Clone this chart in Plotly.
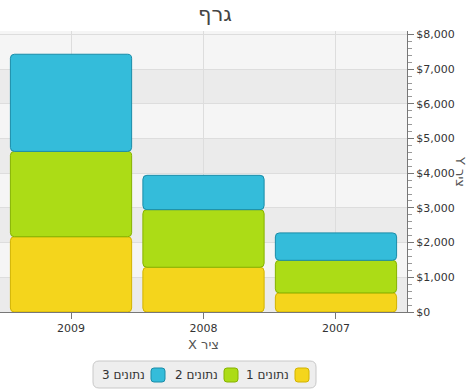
import plotly.graph_objects as go

# ---------------- data ----------------
categories = ["2009", "2008", "2007"]
series_names = ["נתונים 1", "נתונים 2", "נתונים 3"]
data_1 = [2170, 1290, 550]
data_2 = [2460, 1660, 940]
data_3 = [2800, 990, 790]
y_ticks = [0, 1000, 2000, 3000, 4000, 5000, 6000, 7000, 8000]
y_tick_labels = ["$0", "$1,000", "$2,000", "$3,000", "$4,000", "$5,000", "$6,000", "$7,000", "$8,000"]
title_text = "גרף"
x_title = "ציר X"
y_title = "ציר Y"

# ---------------- styles ----------------
fills = ["#f4d51c", "#acdc16", "#34bcda"]
borders = ["#d2b300", "#86b200", "#1a8ca8"]

W, H = 468, 389
PL, PR, PT, PB = 0, 407, 31, 312  # plot area in px


def px_x(px):
    return (px - PL) / (PR - PL)


def px_y(py):
    return (PB - py) / (PB - PT)


def rrect(x0, y0, x1, y1, r):
    """rounded rect path in paper coords, inputs in px"""
    X, Y = px_x, px_y
    return (f"M{X(x0 + r)},{Y(y0)} L{X(x1 - r)},{Y(y0)} Q{X(x1)},{Y(y0)} {X(x1)},{Y(y0 + r)} "
            f"L{X(x1)},{Y(y1 - r)} Q{X(x1)},{Y(y1)} {X(x1 - r)},{Y(y1)} "
            f"L{X(x0 + r)},{Y(y1)} Q{X(x0)},{Y(y1)} {X(x0)},{Y(y1 - r)} "
            f"L{X(x0)},{Y(y0 + r)} Q{X(x0)},{Y(y0)} {X(x0 + r)},{Y(y0)} Z")


series = [data_1, data_2, data_3]
bases = []
acc = [0] * len(categories)
for s in series:
    bases.append(list(acc))
    acc = [a + v for a, v in zip(acc, s)]

fig = go.Figure()
for i, (name, vals) in enumerate(zip(series_names, series)):
    fig.add_trace(go.Bar(
        x=categories, y=vals, base=bases[i], name=name,
        width=0.915,
        marker=dict(color=fills[i], line=dict(color=borders[i], width=1), cornerradius=4),
        showlegend=False,
    ))

shapes = []
# alternate row fills
for k in range(0, len(y_ticks) - 1, 2):
    shapes.append(dict(type="rect", xref="paper", yref="y", x0=0, x1=1,
                       y0=y_ticks[k], y1=y_ticks[k + 1], fillcolor="#ebebeb",
                       line=dict(width=0), layer="below"))

# legend box
shapes.append(dict(type="path", xref="paper", yref="paper",
                   path=rrect(93, 361, 316, 388, 6), fillcolor="#eeeeee",
                   line=dict(color="#c8c8c8", width=1), layer="above"))

annotations = []
# legend entries (RTL: swatch at right of text)
sw_x = [295, 224, 151]
for i, name in enumerate(series_names):
    x0 = sw_x[i]
    shapes.append(dict(type="path", xref="paper", yref="paper",
                       path=rrect(x0, 368, x0 + 14, 382, 3), fillcolor=fills[i],
                       line=dict(color=borders[i], width=1), layer="above"))
    annotations.append(dict(xref="paper", yref="paper", x=px_x(x0 - 4), y=px_y(375),
                            text=name, showarrow=False, xanchor="right", yanchor="middle",
                            font=dict(size=12, color="#333333", family="DejaVu Sans")))

# title
annotations.append(dict(xref="paper", yref="paper", x=px_x(215), y=px_y(14), text=title_text,
                        showarrow=False, xanchor="center", yanchor="middle",
                        font=dict(size=21, color="#444444", family="DejaVu Sans")))
# x title
annotations.append(dict(xref="paper", yref="paper", x=0.5, y=px_y(344),
                        text="\u202B" + x_title + "\u202C",
                        showarrow=False, xanchor="center", yanchor="middle",
                        font=dict(size=13, color="#555555", family="DejaVu Sans")))
# y title
annotations.append(dict(xref="paper", yref="paper", x=px_x(461), y=px_y(171), textangle=90,
                        text="\u202B" + y_title + "\u202C",
                        showarrow=False, xanchor="center", yanchor="middle",
                        font=dict(size=13, color="#555555", family="DejaVu Sans")))

fig.update_layout(
    width=W, height=H,
    margin=dict(l=PL, r=W - PR, t=PT, b=H - PB, pad=0),
    paper_bgcolor="white",
    plot_bgcolor="#f5f5f5",
    barmode="overlay",
    shapes=shapes,
    annotations=annotations,
    showlegend=False,
    font=dict(family="DejaVu Sans", size=11, color="#333333"),
)
fig.update_xaxes(
    type="category", categoryorder="array", categoryarray=categories,
    range=[-0.536, 2.536],
    showline=True, linecolor="#777777", linewidth=1,
    ticks="outside", ticklen=6, tickcolor="#777777",
    showgrid=True, gridcolor="#dddddd", gridwidth=1,
    tickfont=dict(size=11, color="#333333"),
    zeroline=False, fixedrange=True,
)
fig.update_yaxes(
    side="right", range=[0, 8100],
    tickmode="array", tickvals=y_ticks, ticktext=y_tick_labels,
    showline=True, linecolor="#777777", linewidth=1,
    ticks="outside", ticklen=6, tickcolor="#777777",
    minor=dict(dtick=200, ticks="outside", ticklen=4, tickcolor="#999999", showgrid=False),
    showgrid=True, gridcolor="#dddddd", gridwidth=1,
    tickfont=dict(size=11, color="#333333"),
    zeroline=False, fixedrange=True,
)

fig.write_html("out.html")
